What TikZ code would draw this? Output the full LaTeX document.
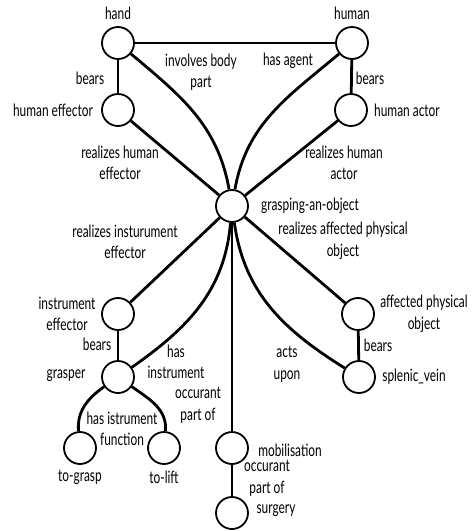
\documentclass[tikz,border=0pt]{standalone}
\usepackage{fontspec}
\setmainfont[FakeStretch=0.7]{Lato}
\begin{document}
\begin{tikzpicture}[x=1pt,y=-1pt,
  concept/.style={circle,draw,line width=1.8pt,fill=white,minimum size=32pt,inner sep=0pt},
  lbl/.style={inner sep=0pt,align=center,font=\fontsize{17}{21.5}\selectfont},
  rel/.style={line width=2.8pt}]
\useasboundingbox (0,0) rectangle (475,531);

% concepts
\node[concept] (hand)   at (118,43)  {};
\node[concept] (human)  at (352,43)  {};
\node[concept] (heff)   at (118,110) {};
\node[concept] (hact)   at (351,110) {};
\node[concept] (grasp)  at (232,206) {};
\node[concept] (ieff)   at (118,314) {};
\node[concept] (apo)    at (358,314) {};
\node[concept] (grasper) at (118,377) {};
\node[concept] (vein)   at (359,377) {};
\node[concept] (tograsp) at (80,448) {};
\node[concept] (tolift) at (164,448) {};
\node[concept] (mobil)  at (232,448) {};
\node[concept] (surg)   at (232,513) {};

% relations
\draw[rel] (hand) -- (human);
\draw[rel] (hand) -- (heff);
\draw[rel] (human) -- (hact);
\draw[rel] (hand) to[out=-40,in=100] (grasp);
\draw[rel] (human) to[out=-140,in=80] (grasp);
\draw[rel] (heff) -- (grasp);
\draw[rel] (hact) -- (grasp);
\draw[rel] (grasp) -- (ieff);
\draw[rel] (grasp) -- (apo);
\draw[rel] (ieff) -- (grasper);
\draw[rel] (apo) -- (vein);
\draw[rel] (grasp) to[out=-95,in=35] (grasper);
\draw[rel] (grasp) to[out=-82,in=148] (vein);
\draw[rel] (grasp) -- (mobil);
\draw[rel] (mobil) -- (surg);
\draw[rel] (grasper) to[out=215,in=95] (tograsp);
\draw[rel] (grasper) to[out=-35,in=85] (tolift);

% concept names
\node[lbl] (thand)   at (118,13)  {hand};
\node[lbl] (thuman)  at (352,13)  {human};
\node[lbl] (theff)   at (53,110)  {human effector};
\node[lbl] (thact)   at (407,110) {human actor};
\node[lbl] (tgrasp)  at (310,206) {grasping-an-object};
\node[lbl] (tieff)   at (67,314)  {instrument\\effector};
\node[lbl] (tapo)    at (424,314) {affected physical\\object};
\node[lbl] (tgrasper) at (66,376) {grasper};
\node[lbl] (tvein)   at (414,377) {splenic\_vein};
\node[lbl] (ttograsp) at (80,477) {to-grasp};
\node[lbl] (ttolift) at (164,477) {to-lift};
\node[lbl] (tmobil)  at (290,450) {mobilisation};
\node[lbl] (tsurg)   at (276,511) {surgery};

% relation names
\node[lbl] (r1)  at (201,72)  {involves body\\part};
\node[lbl] (r2)  at (288,61)  {has agent};
\node[lbl] (r3)  at (90,78)   {bears};
\node[lbl] (r4)  at (370,78)  {bears};
\node[lbl] (r5)  at (120,163) {realizes human\\effector};
\node[lbl] (r6)  at (344,163) {realizes human\\actor};
\node[lbl] (r7)  at (125,242) {realizes insturument\\effector};
\node[lbl] (r8)  at (343,241) {realizes affected physical\\object};
\node[lbl] (r9)  at (97,344)  {bears};
\node[lbl] (r10) at (378,345) {bears};
\node[lbl] (r11) at (176,362) {has\\instrument};
\node[lbl] (r12) at (198,405) {occurant\\part of};
\node[lbl] (r13) at (122,429) {has istrument\\function};
\node[lbl] (r14) at (287,364) {acts\\upon};
\node[lbl] (r15) at (267,478) {occurant\\part of};
\end{tikzpicture}
\end{document}
